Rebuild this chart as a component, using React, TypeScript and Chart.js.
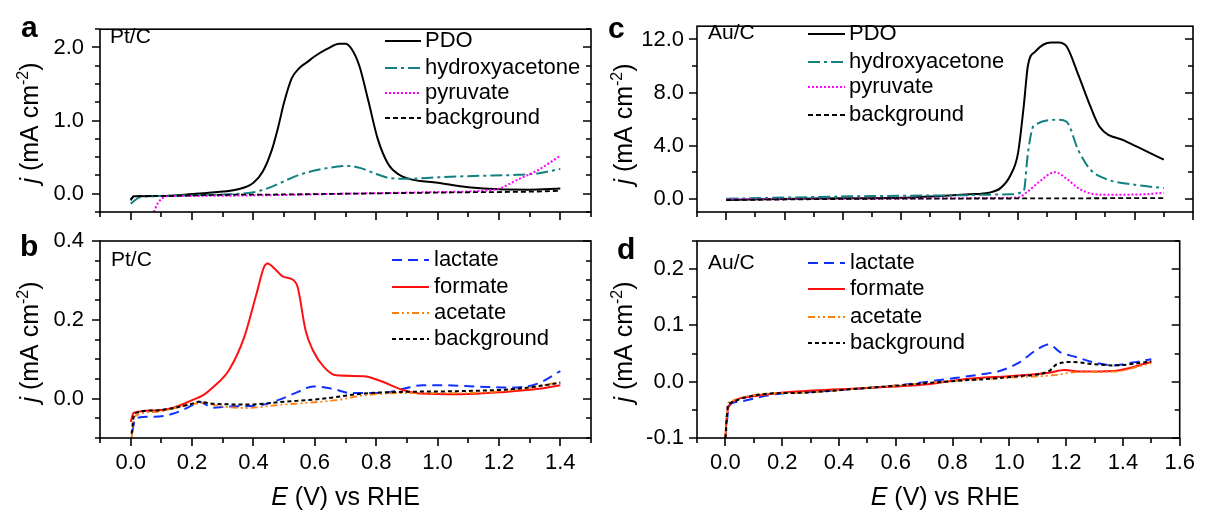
import React, { useEffect, useRef } from "react";
import { Chart, registerables } from "chart.js";
Chart.register(...registerables);

const W = 1207;
const H = 510;
const FAM = "'Liberation Sans', Arial, Helvetica, sans-serif";

// ---------- Panel a (Pt/C, C3 products) ----------
const aPdoE = [0.0, 0.01, 0.1, 0.2, 0.3, 0.35, 0.4, 0.43, 0.46, 0.48, 0.5, 0.525, 0.55, 0.575, 0.6, 0.64, 0.68, 0.7, 0.72, 0.745, 0.775, 0.805, 0.84, 0.875, 0.91, 1.0, 1.1, 1.2, 1.3, 1.4];
const aPdoJ = [-0.08, -0.035, -0.03, -0.005, 0.03, 0.06, 0.15, 0.3, 0.6, 0.9, 1.25, 1.58, 1.72, 1.8, 1.88, 1.98, 2.05, 2.05, 1.98, 1.75, 1.26, 0.75, 0.4, 0.26, 0.2, 0.15, 0.09, 0.06, 0.055, 0.07];
const aHydE = [0.0, 0.03, 0.1, 0.2, 0.3, 0.4, 0.45, 0.55, 0.64, 0.71, 0.75, 0.8, 0.85, 0.91, 1.0, 1.14, 1.24, 1.33, 1.4];
const aHydJ = [-0.135, -0.05, -0.03, -0.02, -0.01, 0.02, 0.08, 0.26, 0.35, 0.38, 0.35, 0.27, 0.21, 0.205, 0.225, 0.245, 0.255, 0.28, 0.34];
const aPyrE = [0.07, 0.09, 0.108, 0.13, 0.2, 0.45, 0.7, 0.95, 1.14, 1.2, 1.26, 1.33, 1.4];
const aPyrJ = [-0.3, -0.12, -0.05, -0.03, -0.03, -0.02, 0.0, 0.02, 0.04, 0.07, 0.19, 0.33, 0.52];
const aBgE = [0.0, 0.01, 0.1, 0.3, 0.5, 0.7, 0.9, 1.1, 1.3, 1.4];
const aBgJ = [-0.09, -0.04, -0.03, -0.015, -0.01, 0.0, 0.01, 0.02, 0.028, 0.04];

// ---------- Panel b (Pt/C, C1/C2 products) ----------
const bLacE = [0.005, 0.016, 0.077, 0.14, 0.2, 0.22, 0.27, 0.32, 0.42, 0.48, 0.545, 0.594, 0.656, 0.72, 0.82, 0.89, 0.95, 1.01, 1.14, 1.24, 1.326, 1.4];
const bLacJ = [-0.084, -0.05, -0.046, -0.038, -0.017, -0.008, -0.023, -0.02, -0.017, -0.004, 0.017, 0.031, 0.025, 0.014, 0.014, 0.025, 0.034, 0.034, 0.03, 0.028, 0.038, 0.07];
const bForE = [0.0, 0.01, 0.08, 0.14, 0.2, 0.235, 0.27, 0.32, 0.37, 0.41, 0.434, 0.446, 0.47, 0.495, 0.53, 0.544, 0.57, 0.594, 0.63, 0.67, 0.76, 0.81, 0.89, 0.94, 1.075, 1.22, 1.33, 1.4];
const bForJ = [-0.059, -0.036, -0.03, -0.023, -0.004, 0.008, 0.03, 0.072, 0.156, 0.266, 0.333, 0.343, 0.329, 0.31, 0.301, 0.283, 0.173, 0.122, 0.08, 0.059, 0.057, 0.046, 0.021, 0.013, 0.011, 0.017, 0.025, 0.034];
const bAceE = [0.003, 0.012, 0.077, 0.2, 0.235, 0.29, 0.38, 0.47, 0.57, 0.67, 0.76, 0.89, 1.075, 1.26, 1.4];
const bAceJ = [-0.1, -0.046, -0.034, -0.014, -0.011, -0.019, -0.024, -0.017, -0.011, -0.004, 0.008, 0.014, 0.014, 0.023, 0.042];
const bBgE = [0.003, 0.012, 0.077, 0.2, 0.22, 0.27, 0.38, 0.5, 0.63, 0.76, 0.89, 1.075, 1.26, 1.4];
const bBgJ = [-0.089, -0.038, -0.03, -0.013, -0.008, -0.013, -0.015, -0.008, 0.0, 0.013, 0.017, 0.019, 0.025, 0.04];

// ---------- Panel c (Au/C, C3 products) ----------
const cPdoE = [0.0, 0.235, 0.635, 0.834, 0.9, 0.94, 0.974, 1.0, 1.02, 1.034, 1.06, 1.114, 1.14, 1.167, 1.207, 1.248, 1.28, 1.367, 1.434, 1.5];
const cPdoJ = [-0.1, 0.0, 0.1, 0.33, 0.45, 0.8, 1.75, 3.4, 7.0, 10.0, 11.1, 11.78, 11.78, 11.47, 9.33, 6.97, 5.42, 4.36, 3.65, 2.94];
const cHydE = [0.0, 0.235, 0.5, 0.77, 0.97, 1.02, 1.034, 1.054, 1.14, 1.167, 1.207, 1.248, 1.3, 1.4, 1.5];
const cHydJ = [0.0, 0.1, 0.2, 0.25, 0.33, 0.6, 3.4, 5.5, 5.95, 5.8, 3.65, 2.2, 1.5, 1.05, 0.8];
const cPyrE = [0.0, 0.5, 0.9, 1.0, 1.034, 1.074, 1.127, 1.167, 1.207, 1.248, 1.3, 1.43, 1.5];
const cPyrJ = [-0.05, 0.0, 0.05, 0.1, 0.55, 1.3, 2.0, 1.5, 0.8, 0.4, 0.3, 0.33, 0.45];
const cBgE = [0.0, 0.5, 1.0, 1.5];
const cBgJ = [-0.1, 0.0, 0.02, 0.05];

// ---------- Panel d (Au/C, C1/C2 products) ----------
const dLacE = [0.0, 0.013, 0.04, 0.166, 0.366, 0.635, 0.77, 0.9, 0.966, 1.034, 1.1, 1.14, 1.18, 1.234, 1.3, 1.367, 1.434, 1.5];
const dLacJ = [-0.1, -0.043, -0.036, -0.023, -0.016, -0.005, 0.004, 0.013, 0.019, 0.034, 0.058, 0.066, 0.052, 0.044, 0.034, 0.029, 0.034, 0.04];
const dForE = [0.0, 0.005, 0.013, 0.03, 0.1, 0.235, 0.5, 0.7, 0.834, 1.034, 1.14, 1.194, 1.248, 1.367, 1.5];
const dForJ = [-0.1, -0.061, -0.043, -0.034, -0.026, -0.018, -0.011, -0.005, 0.004, 0.011, 0.016, 0.021, 0.018, 0.019, 0.035];
const dAceE = [0.0, 0.01, 0.235, 0.5, 0.77, 1.034, 1.167, 1.234, 1.367, 1.5];
const dAceJ = [-0.1, -0.037, -0.02, -0.011, 0.0, 0.008, 0.012, 0.017, 0.018, 0.033];
const dBgE = [0.0, 0.01, 0.235, 0.5, 0.77, 1.034, 1.14, 1.167, 1.22, 1.3, 1.367, 1.5];
const dBgJ = [-0.1, -0.04, -0.02, -0.011, 0.0, 0.01, 0.019, 0.031, 0.035, 0.031, 0.029, 0.036];

// ---------- tick labels ----------
const xTicksPt = [0.0, 0.2, 0.4, 0.6, 0.8, 1.0, 1.2, 1.4];
const xTicksAu = [0.0, 0.2, 0.4, 0.6, 0.8, 1.0, 1.2, 1.4, 1.6];
const yTicksA = [0.0, 1.0, 2.0];
const yTicksB = [0.0, 0.2, 0.4];
const yTicksC = [0.0, 4.0, 8.0, 12.0];
const yTicksD = [-0.1, 0.0, 0.1, 0.2];

// ---------- styles ----------
const STY: Record<string, { color: string; width: number; dash: number[] }> = {
  PDO: { color: "#000000", width: 2, dash: [] },
  hydroxyacetone: { color: "#128080", width: 2, dash: [12, 4, 3, 4] },
  pyruvate: { color: "#ff00ff", width: 2, dash: [2, 2] },
  backgroundA: { color: "#000000", width: 1.8, dash: [5, 3] },
  lactate: { color: "#1030ff", width: 2, dash: [10, 6] },
  formate: { color: "#ff1010", width: 2, dash: [] },
  acetate: { color: "#ff8010", width: 1.8, dash: [7, 3, 2, 3, 2, 3] },
  backgroundB: { color: "#000000", width: 2, dash: [4, 3] },
};

type Ser = { label: string; sty: string; e: number[]; j: number[] };
type Panel = {
  letter: string; tag: string; area: number[]; xMin: number; xMax: number; yMin: number; yMax: number;
  xTicks: number[]; showX: boolean; yTicks: number[]; yMinor: number; yPad: number;
  letterPos: number[]; tagPos: number[]; legend: { x1: number; x2: number; tx: number; rows: number[] };
  yTitle: number[]; xTitle: number[] | null; series: Ser[];
};

const panels: Panel[] = [
  {
    letter: "a", tag: "Pt/C", area: [100, 15, 591, 212], xMin: -0.1, xMax: 1.5, yMin: -0.25, yMax: 2.25,
    xTicks: xTicksPt, showX: false, yTicks: yTicksA, yMinor: 0.25, yPad: 16,
    letterPos: [21, 37], tagPos: [110, 37], legend: { x1: 385, x2: 421, tx: 425, rows: [41, 68, 93, 118] },
    yTitle: [38, 123], xTitle: null,
    series: [
      { label: "PDO", sty: "PDO", e: aPdoE, j: aPdoJ },
      { label: "hydroxyacetone", sty: "hydroxyacetone", e: aHydE, j: aHydJ },
      { label: "pyruvate", sty: "pyruvate", e: aPyrE, j: aPyrJ },
      { label: "background", sty: "backgroundA", e: aBgE, j: aBgJ },
    ],
  },
  {
    letter: "b", tag: "Pt/C", area: [100, 241, 591, 438], xMin: -0.1, xMax: 1.5, yMin: -0.1, yMax: 0.4,
    xTicks: xTicksPt, showX: true, yTicks: yTicksB, yMinor: 0.05, yPad: 16,
    letterPos: [20, 256], tagPos: [111, 260], legend: { x1: 392, x2: 429, tx: 434, rows: [260, 287, 313, 339] },
    yTitle: [38, 342], xTitle: [345.5, 505],
    series: [
      { label: "lactate", sty: "lactate", e: bLacE, j: bLacJ },
      { label: "formate", sty: "formate", e: bForE, j: bForJ },
      { label: "acetate", sty: "acetate", e: bAceE, j: bAceJ },
      { label: "background", sty: "backgroundB", e: bBgE, j: bBgJ },
    ],
  },
  {
    letter: "c", tag: "Au/C", area: [697, 15, 1193, 212], xMin: -0.1, xMax: 1.6, yMin: -1, yMax: 13,
    xTicks: xTicksAu, showX: false, yTicks: yTicksC, yMinor: 2, yPad: 13,
    letterPos: [608, 38], tagPos: [708, 33], legend: { x1: 808, x2: 845, tx: 849, rows: [34, 62, 87, 115] },
    yTitle: [632, 124], xTitle: null,
    series: [
      { label: "PDO", sty: "PDO", e: cPdoE, j: cPdoJ },
      { label: "hydroxyacetone", sty: "hydroxyacetone", e: cHydE, j: cHydJ },
      { label: "pyruvate", sty: "pyruvate", e: cPyrE, j: cPyrJ },
      { label: "background", sty: "backgroundA", e: cBgE, j: cBgJ },
    ],
  },
  {
    letter: "d", tag: "Au/C", area: [697, 241, 1193, 438], xMin: -0.1, xMax: 1.6, yMin: -0.1, yMax: 0.25,
    xTicks: xTicksAu, showX: true, yTicks: yTicksD, yMinor: 0.05, yPad: 13,
    letterPos: [617, 259], tagPos: [708, 263], legend: { x1: 808, x2: 845, tx: 850, rows: [263, 289, 317, 343] },
    yTitle: [632, 342], xTitle: [945, 505],
    series: [
      { label: "lactate", sty: "lactate", e: dLacE, j: dLacJ },
      { label: "formate", sty: "formate", e: dForE, j: dForJ },
      { label: "acetate", sty: "acetate", e: dAceE, j: dAceJ },
      { label: "background", sty: "backgroundB", e: dBgE, j: dBgJ },
    ],
  },
];

const Y_W = 70;
const X_H = 40;
const TICK_FONT = 22;
const MAJ = 8;
const MIN = 5;

function drawYTitle(ctx: CanvasRenderingContext2D, bx: number, cy: number) {
  const parts = [
    { t: "j", f: `italic 25px ${FAM}`, dy: 0 },
    { t: " (mA cm", f: `25px ${FAM}`, dy: 0 },
    { t: "-2", f: `16px ${FAM}`, dy: -10 },
    { t: ")", f: `25px ${FAM}`, dy: 0 },
  ];
  ctx.save();
  ctx.translate(bx, cy);
  ctx.rotate(-Math.PI / 2);
  ctx.textBaseline = "alphabetic";
  ctx.textAlign = "left";
  ctx.fillStyle = "#000";
  let total = 0;
  const ws = parts.map((p) => { ctx.font = p.f; const w = ctx.measureText(p.t).width; total += w; return w; });
  let x = -total / 2;
  parts.forEach((p, i) => { ctx.font = p.f; ctx.fillText(p.t, x, p.dy); x += ws[i]; });
  ctx.restore();
}

function drawXTitle(ctx: CanvasRenderingContext2D, cx: number, by: number) {
  const parts = [
    { t: "E", f: `italic 25px ${FAM}` },
    { t: " (V) vs RHE", f: `25px ${FAM}` },
  ];
  ctx.save();
  ctx.textBaseline = "alphabetic";
  ctx.textAlign = "left";
  ctx.fillStyle = "#000";
  let total = 0;
  const ws = parts.map((p) => { ctx.font = p.f; const w = ctx.measureText(p.t).width; total += w; return w; });
  let x = cx - total / 2;
  parts.forEach((p, i) => { ctx.font = p.f; ctx.fillText(p.t, x, by); x += ws[i]; });
  ctx.restore();
}

const decoPlugin = {
  id: "deco",
  afterDraw(chart: any) {
    const p: Panel = chart.options.plugins.deco.panel;
    const ctx: CanvasRenderingContext2D = chart.ctx;
    const { left, right, top, bottom } = chart.chartArea;
    const xs = chart.scales.x;
    const ys = chart.scales.y;
    ctx.save();
    ctx.strokeStyle = "#000";
    ctx.lineWidth = 1.6;
    ctx.setLineDash([]);
    ctx.strokeRect(left, top, right - left, bottom - top);
    // x ticks (bottom, outward)
    const eps = 1e-6;
    const xStep = 0.1;
    for (let k = Math.ceil((p.xMin - eps) / xStep); k * xStep <= p.xMax + eps; k++) {
      const v = k * xStep;
      const major = p.xTicks.some((t) => Math.abs(t - v) < eps);
      const px = Math.round(xs.getPixelForValue(v));
      ctx.beginPath();
      ctx.moveTo(px, bottom);
      ctx.lineTo(px, bottom + (major ? MAJ : MIN));
      ctx.stroke();
    }
    // y ticks (left outward, right inward)
    for (let k = Math.ceil((p.yMin - eps) / p.yMinor); k * p.yMinor <= p.yMax + eps; k++) {
      const v = k * p.yMinor;
      const major = p.yTicks.some((t) => Math.abs(t - v) < eps);
      const py = Math.round(ys.getPixelForValue(v));
      const len = major ? MAJ : MIN;
      ctx.beginPath();
      ctx.moveTo(left - len, py);
      ctx.lineTo(left, py);
      ctx.moveTo(right - len, py);
      ctx.lineTo(right, py);
      ctx.stroke();
    }
    // panel letter
    ctx.fillStyle = "#000";
    ctx.font = `bold 30px ${FAM}`;
    ctx.textBaseline = "alphabetic";
    ctx.textAlign = "left";
    ctx.fillText(p.letter, p.letterPos[0], p.letterPos[1]);
    // catalyst tag
    ctx.font = `21px ${FAM}`;
    ctx.textBaseline = "middle";
    ctx.fillText(p.tag, p.tagPos[0], p.tagPos[1]);
    // legend
    p.series.forEach((s, i) => {
      const st = STY[s.sty];
      const y = p.legend.rows[i];
      ctx.strokeStyle = st.color;
      ctx.lineWidth = st.width;
      ctx.setLineDash(st.dash);
      ctx.beginPath();
      ctx.moveTo(p.legend.x1, y);
      ctx.lineTo(p.legend.x2, y);
      ctx.stroke();
      ctx.setLineDash([]);
      ctx.fillStyle = "#000";
      ctx.font = `22px ${FAM}`;
      ctx.textBaseline = "middle";
      ctx.fillText(s.label, p.legend.tx, y);
    });
    drawYTitle(ctx, p.yTitle[0], p.yTitle[1]);
    if (p.xTitle) drawXTitle(ctx, p.xTitle[0], p.xTitle[1]);
    ctx.restore();
  },
};

function makeConfig(p: Panel): any {
  const [L, T, R, B] = p.area;
  return {
    type: "line",
    data: {
      datasets: p.series.map((s) => {
        const st = STY[s.sty];
        return {
          label: s.label,
          data: s.e.map((x, i) => ({ x, y: s.j[i] })),
          borderColor: st.color,
          borderWidth: st.width,
          borderDash: st.dash,
          pointRadius: 0,
          fill: false,
          cubicInterpolationMode: "monotone",
        };
      }).reverse(),
    },
    options: {
      animation: false,
      responsive: false,
      maintainAspectRatio: false,
      events: [],
      layout: { padding: { left: L - Y_W, top: T, right: W - R, bottom: H - B - X_H } },
      plugins: { legend: { display: false }, tooltip: { enabled: false }, deco: { panel: p } },
      scales: {
        x: {
          type: "linear",
          min: p.xMin,
          max: p.xMax,
          afterBuildTicks: (sc: any) => { sc.ticks = p.xTicks.map((v) => ({ value: v })); },
          afterFit: (sc: any) => { sc.height = X_H; },
          grid: { display: false, drawTicks: false },
          border: { display: false },
          ticks: {
            display: p.showX,
            autoSkip: false,
            maxRotation: 0,
            padding: 12,
            color: "#000",
            font: { family: FAM, size: TICK_FONT },
            callback: (v: any) => Number(v).toFixed(1),
          },
        },
        y: {
          type: "linear",
          min: p.yMin,
          max: p.yMax,
          afterBuildTicks: (sc: any) => { sc.ticks = p.yTicks.map((v) => ({ value: v })); },
          afterFit: (sc: any) => { sc.width = Y_W; },
          grid: { display: false, drawTicks: false },
          border: { display: false },
          ticks: {
            autoSkip: false,
            padding: p.yPad,
            color: "#000",
            font: { family: FAM, size: TICK_FONT },
            callback: (v: any) => Number(v).toFixed(1),
          },
        },
      },
    },
    plugins: [decoPlugin],
  };
}

function PanelCanvas({ p }: { p: Panel }) {
  const ref = useRef<HTMLCanvasElement | null>(null);
  useEffect(() => {
    if (!ref.current) return;
    const chart = new Chart(ref.current, makeConfig(p));
    return () => chart.destroy();
  }, [p]);
  return (
    <canvas
      ref={ref}
      width={W}
      height={H}
      style={{ position: "absolute", left: 0, top: 0, width: W, height: H }}
    />
  );
}

export default function App() {
  return (
    <div style={{ position: "absolute", left: 0, top: 0, width: W, height: H, background: "#fff", overflow: "hidden" }}>
      {panels.map((p) => (
        <PanelCanvas key={p.letter} p={p} />
      ))}
    </div>
  );
}
